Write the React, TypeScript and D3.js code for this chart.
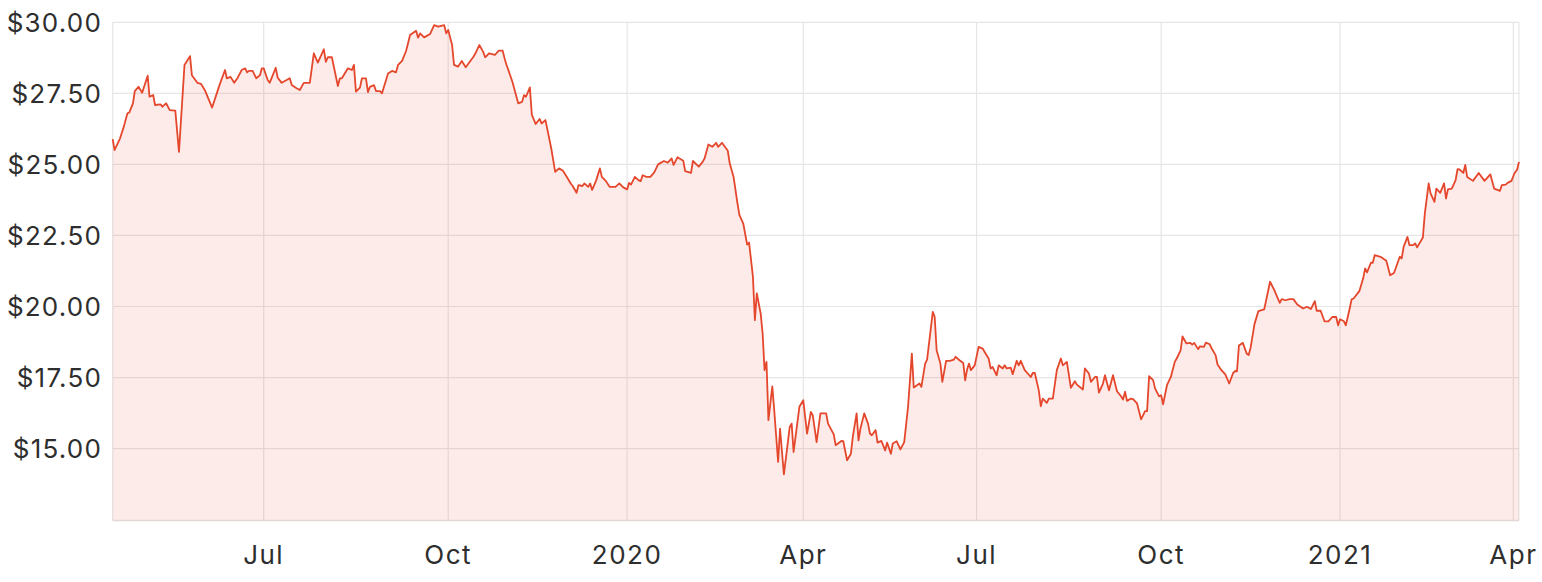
import React from "react";
import * as d3 from "d3";

// Closing prices (date, AUD)
const priceSeries: [string, number][] = [
  ["2019-04-10", 25.89], ["2019-04-11", 25.5], ["2019-04-14", 25.92], ["2019-04-16", 26.32], ["2019-04-18", 26.8],
  ["2019-04-19", 26.82], ["2019-04-21", 27.15], ["2019-04-22", 27.58], ["2019-04-24", 27.73], ["2019-04-26", 27.52],
  ["2019-04-29", 28.12], ["2019-04-30", 27.38], ["2019-05-02", 27.44], ["2019-05-03", 27.09], ["2019-05-06", 27.11],
  ["2019-05-07", 27.03], ["2019-05-09", 27.15], ["2019-05-11", 26.91], ["2019-05-14", 26.89], ["2019-05-16", 25.44],
  ["2019-05-19", 28.5], ["2019-05-22", 28.81], ["2019-05-23", 28.14], ["2019-05-26", 27.87], ["2019-05-28", 27.83],
  ["2019-05-30", 27.62], ["2019-06-03", 27.0], ["2019-06-07", 27.79], ["2019-06-10", 28.32], ["2019-06-11", 28.03],
  ["2019-06-13", 28.08], ["2019-06-15", 27.87], ["2019-06-17", 28.06], ["2019-06-19", 28.32], ["2019-06-21", 28.38],
  ["2019-06-22", 28.24], ["2019-06-23", 28.29], ["2019-06-25", 28.29], ["2019-06-27", 28.03], ["2019-06-29", 28.14],
  ["2019-06-30", 28.38],
  ["2019-07-01", 28.38], ["2019-07-03", 27.97], ["2019-07-04", 27.87], ["2019-07-07", 28.4], ["2019-07-08", 28.05],
  ["2019-07-10", 27.87], ["2019-07-14", 28.03], ["2019-07-15", 27.79], ["2019-07-17", 27.7], ["2019-07-19", 27.62],
  ["2019-07-21", 27.87], ["2019-07-24", 27.87], ["2019-07-26", 28.91], ["2019-07-28", 28.58], ["2019-07-31", 29.05],
  ["2019-08-01", 28.61], ["2019-08-02", 28.77], ["2019-08-04", 28.77], ["2019-08-07", 27.76], ["2019-08-08", 28.03],
  ["2019-08-09", 28.03], ["2019-08-12", 28.38], ["2019-08-14", 28.32], ["2019-08-15", 28.5], ["2019-08-16", 27.56],
  ["2019-08-18", 27.7], ["2019-08-19", 28.03], ["2019-08-21", 28.03], ["2019-08-22", 27.54], ["2019-08-23", 27.73],
  ["2019-08-25", 27.79], ["2019-08-26", 27.58], ["2019-08-28", 27.58], ["2019-08-29", 27.5], ["2019-09-01", 28.2],
  ["2019-09-03", 28.29], ["2019-09-05", 28.24], ["2019-09-06", 28.5], ["2019-09-08", 28.64], ["2019-09-10", 28.99],
  ["2019-09-12", 29.55], ["2019-09-15", 29.7], ["2019-09-16", 29.46], ["2019-09-17", 29.61], ["2019-09-19", 29.47],
  ["2019-09-22", 29.59], ["2019-09-24", 29.9], ["2019-09-26", 29.85], ["2019-09-29", 29.9], ["2019-09-30", 29.61],
  ["2019-10-01", 29.73], ["2019-10-03", 29.2], ["2019-10-04", 28.5], ["2019-10-06", 28.44], ["2019-10-08", 28.64],
  ["2019-10-10", 28.42], ["2019-10-14", 28.79], ["2019-10-15", 28.91], ["2019-10-17", 29.2], ["2019-10-19", 28.96],
  ["2019-10-20", 28.77], ["2019-10-22", 28.91], ["2019-10-25", 28.85], ["2019-10-27", 29.0], ["2019-10-29", 29.0],
  ["2019-10-30", 28.73], ["2019-10-31", 28.5], ["2019-11-03", 27.91], ["2019-11-06", 27.15], ["2019-11-08", 27.2],
  ["2019-11-09", 27.44], ["2019-11-10", 27.38], ["2019-11-12", 27.71], ["2019-11-13", 26.74], ["2019-11-15", 26.42],
  ["2019-11-17", 26.6], ["2019-11-18", 26.44], ["2019-11-20", 26.56], ["2019-11-23", 25.56], ["2019-11-25", 24.74],
  ["2019-11-27", 24.86], ["2019-11-29", 24.78], ["2019-12-01", 24.56], ["2019-12-03", 24.33], ["2019-12-04", 24.24],
  ["2019-12-06", 24.0], ["2019-12-07", 24.27], ["2019-12-09", 24.24], ["2019-12-10", 24.33], ["2019-12-12", 24.21],
  ["2019-12-13", 24.33], ["2019-12-14", 24.1], ["2019-12-16", 24.42], ["2019-12-18", 24.86], ["2019-12-19", 24.56],
  ["2019-12-21", 24.42], ["2019-12-23", 24.21], ["2019-12-26", 24.21], ["2019-12-28", 24.33], ["2019-12-30", 24.19],
  ["2020-01-01", 24.12], ["2020-01-02", 24.35], ["2020-01-03", 24.29], ["2020-01-05", 24.56], ["2020-01-07", 24.44],
  ["2020-01-08", 24.41], ["2020-01-09", 24.62], ["2020-01-11", 24.56], ["2020-01-13", 24.56], ["2020-01-15", 24.72],
  ["2020-01-17", 25.0], ["2020-01-20", 25.12], ["2020-01-22", 25.06], ["2020-01-24", 25.21], ["2020-01-25", 24.98],
  ["2020-01-27", 25.25], ["2020-01-30", 25.13], ["2020-01-31", 24.76], ["2020-02-03", 24.7], ["2020-02-04", 25.12],
  ["2020-02-07", 24.92], ["2020-02-09", 25.09], ["2020-02-10", 25.21], ["2020-02-12", 25.7], ["2020-02-14", 25.62],
  ["2020-02-16", 25.76], ["2020-02-17", 25.62], ["2020-02-19", 25.76], ["2020-02-22", 25.48], ["2020-02-23", 25.04],
  ["2020-02-25", 24.56], ["2020-02-27", 23.63], ["2020-02-28", 23.22], ["2020-03-01", 22.92], ["2020-03-03", 22.18],
  ["2020-03-04", 22.25], ["2020-03-06", 21.04], ["2020-03-07", 19.52], ["2020-03-08", 20.46], ["2020-03-10", 19.75],
  ["2020-03-11", 19.05], ["2020-03-12", 17.76], ["2020-03-13", 18.05], ["2020-03-14", 16.0], ["2020-03-16", 17.19],
  ["2020-03-17", 16.35], ["2020-03-19", 14.53], ["2020-03-20", 15.7], ["2020-03-22", 14.09], ["2020-03-25", 15.76],
  ["2020-03-26", 15.88], ["2020-03-27", 14.88], ["2020-03-30", 16.47],
  ["2020-04-01", 16.7], ["2020-04-03", 15.53], ["2020-04-05", 16.29], ["2020-04-06", 16.17], ["2020-04-08", 15.23],
  ["2020-04-10", 16.24], ["2020-04-13", 16.24], ["2020-04-14", 15.88], ["2020-04-17", 15.5], ["2020-04-18", 15.12],
  ["2020-04-21", 15.27], ["2020-04-22", 15.26], ["2020-04-24", 14.59], ["2020-04-26", 14.82], ["2020-04-27", 15.41],
  ["2020-04-29", 16.24], ["2020-04-30", 15.29], ["2020-05-01", 15.7], ["2020-05-03", 16.24], ["2020-05-05", 15.88],
  ["2020-05-06", 15.53], ["2020-05-07", 15.47], ["2020-05-09", 15.65], ["2020-05-10", 15.21], ["2020-05-12", 15.27],
  ["2020-05-14", 14.94], ["2020-05-15", 15.21], ["2020-05-17", 14.82], ["2020-05-18", 15.18], ["2020-05-20", 15.26],
  ["2020-05-22", 14.97], ["2020-05-24", 15.23], ["2020-05-26", 16.47], ["2020-05-27", 17.4], ["2020-05-28", 18.34],
  ["2020-05-29", 17.15], ["2020-06-01", 17.29], ["2020-06-02", 17.17], ["2020-06-04", 17.99], ["2020-06-05", 18.13],
  ["2020-06-08", 19.81], ["2020-06-09", 19.63], ["2020-06-10", 18.46], ["2020-06-12", 17.99], ["2020-06-13", 17.35],
  ["2020-06-15", 18.09], ["2020-06-17", 18.09], ["2020-06-19", 18.13], ["2020-06-20", 18.23], ["2020-06-22", 18.11],
  ["2020-06-24", 18.01], ["2020-06-25", 17.4], ["2020-06-26", 17.78], ["2020-06-27", 17.99], ["2020-06-28", 17.76],
  ["2020-06-30", 17.93],
  ["2020-07-02", 18.58], ["2020-07-04", 18.52], ["2020-07-05", 18.4], ["2020-07-07", 18.17], ["2020-07-08", 17.82],
  ["2020-07-09", 17.87], ["2020-07-11", 17.58], ["2020-07-12", 17.93], ["2020-07-14", 17.82], ["2020-07-15", 17.93],
  ["2020-07-16", 17.82], ["2020-07-18", 17.85], ["2020-07-19", 17.62], ["2020-07-21", 18.09], ["2020-07-22", 17.93],
  ["2020-07-23", 18.09], ["2020-07-25", 17.76], ["2020-07-28", 17.52], ["2020-07-29", 17.66], ["2020-07-30", 17.66],
  ["2020-08-01", 17.05], ["2020-08-02", 16.49], ["2020-08-03", 16.76], ["2020-08-05", 16.61], ["2020-08-06", 16.76],
  ["2020-08-08", 16.76], ["2020-08-10", 17.76], ["2020-08-12", 18.17], ["2020-08-13", 17.93], ["2020-08-15", 18.05],
  ["2020-08-17", 17.14], ["2020-08-19", 17.37], ["2020-08-20", 17.25], ["2020-08-23", 17.08], ["2020-08-24", 17.82],
  ["2020-08-26", 17.64], ["2020-08-27", 17.35], ["2020-08-29", 17.52], ["2020-08-30", 17.52], ["2020-08-31", 16.97],
  ["2020-09-02", 17.29], ["2020-09-03", 17.58], ["2020-09-05", 17.05], ["2020-09-07", 17.58], ["2020-09-09", 17.02],
  ["2020-09-11", 16.84], ["2020-09-12", 16.73], ["2020-09-13", 17.0], ["2020-09-14", 16.68], ["2020-09-16", 16.76],
  ["2020-09-17", 16.74], ["2020-09-19", 16.59], ["2020-09-21", 16.03], ["2020-09-23", 16.32], ["2020-09-24", 16.32],
  ["2020-09-25", 17.55], ["2020-09-27", 17.41], ["2020-09-28", 17.11], ["2020-09-30", 16.84],
  ["2020-10-01", 16.88], ["2020-10-02", 16.56], ["2020-10-04", 17.23], ["2020-10-06", 17.52], ["2020-10-08", 18.05],
  ["2020-10-09", 18.17], ["2020-10-11", 18.46], ["2020-10-12", 18.95], ["2020-10-14", 18.7], ["2020-10-16", 18.72],
  ["2020-10-17", 18.66], ["2020-10-18", 18.72], ["2020-10-20", 18.5], ["2020-10-21", 18.6], ["2020-10-23", 18.58],
  ["2020-10-24", 18.73], ["2020-10-26", 18.67], ["2020-10-27", 18.52], ["2020-10-29", 18.29], ["2020-10-30", 17.96],
  ["2020-11-01", 17.76], ["2020-11-03", 17.61], ["2020-11-05", 17.29], ["2020-11-07", 17.66], ["2020-11-08", 17.73],
  ["2020-11-09", 17.72], ["2020-11-10", 18.63], ["2020-11-12", 18.72], ["2020-11-14", 18.34], ["2020-11-15", 18.29],
  ["2020-11-16", 18.55], ["2020-11-18", 19.38], ["2020-11-20", 19.84], ["2020-11-23", 19.9], ["2020-11-26", 20.87],
  ["2020-11-28", 20.6], ["2020-12-01", 20.13], ["2020-12-02", 20.26], ["2020-12-04", 20.22], ["2020-12-06", 20.26],
  ["2020-12-08", 20.26], ["2020-12-10", 20.07], ["2020-12-13", 19.93], ["2020-12-15", 19.99], ["2020-12-17", 19.91],
  ["2020-12-19", 20.19], ["2020-12-20", 19.85], ["2020-12-22", 19.85], ["2020-12-24", 19.48], ["2020-12-26", 19.48],
  ["2020-12-28", 19.63], ["2020-12-30", 19.63], ["2020-12-31", 19.34],
  ["2021-01-01", 19.55], ["2021-01-03", 19.48], ["2021-01-04", 19.34], ["2021-01-06", 19.93], ["2021-01-07", 20.25],
  ["2021-01-08", 20.28], ["2021-01-11", 20.54], ["2021-01-13", 20.99], ["2021-01-14", 21.34], ["2021-01-15", 21.2],
  ["2021-01-17", 21.54], ["2021-01-18", 21.54], ["2021-01-19", 21.81], ["2021-01-22", 21.75], ["2021-01-25", 21.61],
  ["2021-01-27", 21.1], ["2021-01-29", 21.18], ["2021-02-01", 21.75], ["2021-02-02", 21.69], ["2021-02-03", 22.1],
  ["2021-02-05", 22.45], ["2021-02-06", 22.16], ["2021-02-08", 22.16], ["2021-02-09", 22.22], ["2021-02-10", 22.08],
  ["2021-02-13", 22.43], ["2021-02-14", 23.27], ["2021-02-16", 24.33], ["2021-02-17", 23.98], ["2021-02-19", 23.68],
  ["2021-02-20", 24.15], ["2021-02-22", 24.0], ["2021-02-24", 24.33], ["2021-02-25", 23.8], ["2021-02-26", 24.12],
  ["2021-02-28", 24.15], ["2021-03-02", 24.45], ["2021-03-03", 24.83], ["2021-03-04", 24.82], ["2021-03-06", 24.7],
  ["2021-03-07", 24.98], ["2021-03-08", 24.56], ["2021-03-11", 24.42], ["2021-03-14", 24.7], ["2021-03-17", 24.42],
  ["2021-03-20", 24.65], ["2021-03-22", 24.15], ["2021-03-25", 24.07], ["2021-03-26", 24.27], ["2021-03-28", 24.29],
  ["2021-03-29", 24.35], ["2021-03-31", 24.42], ["2021-04-02", 24.68], ["2021-04-05", 24.82], ["2021-04-07", 25.09],
];

const yTickValues = [15, 17.5, 20, 22.5, 25, 27.5, 30];
const yDomain = [12.47, 30];

const xTickDates = ["2019-07-01", "2019-10-01", "2020-01-01", "2020-04-01", "2020-07-01", "2020-10-01", "2021-01-01", "2021-04-01"];
const xTickLabels = ["Jul", "Oct", "2020", "Apr", "Jul", "Oct", "2021", "Apr"];

// Exchange (ASX) holidays falling on weekdays in the period: axis is spaced by trading days
const marketHolidays = [
  "2019-04-19", "2019-04-22", "2019-04-25", "2019-06-10", "2019-12-25", "2019-12-26",
  "2020-01-01", "2020-01-27", "2020-04-10", "2020-04-13", "2020-06-08", "2020-12-25", "2020-12-28",
  "2021-01-01", "2021-01-26", "2021-04-02", "2021-04-05",
];

const W = 1542;
const H = 582;
const M = { left: 112.7, right: 1519, top: 22.3, bottom: 520.5 };
const FONT = "Inter, 'Open Sans', 'DejaVu Sans', sans-serif";

export default function App() {
  const parse = d3.utcParse("%Y-%m-%d");
  const fmt = d3.utcFormat("%Y-%m-%d");
  const data = priceSeries.map(([d, v]) => ({ date: parse(d) as Date, value: v }));
  const start = data[0].date;
  const end = data[data.length - 1].date;

  const holidaySet = new Set(marketHolidays);
  const tradingDays = d3
    .utcDays(start, d3.utcDay.offset(end, 1))
    .filter((d) => d.getUTCDay() !== 0 && d.getUTCDay() !== 6 && !holidaySet.has(fmt(d)));
  const idxScale = d3.scaleLinear().domain([0, tradingDays.length - 1]).range([M.left, M.right]);
  const tradingIndex = (d: Date) => d3.bisectLeft(tradingDays.map((t) => +t), +d);

  const tickDates = xTickDates.map((s) => parse(s) as Date);
  const anchors = [start, ...tickDates, end];
  const x = d3
    .scaleUtc()
    .domain(anchors)
    .range(anchors.map((a) => idxScale(tradingIndex(a))));

  const y = d3.scaleLinear().domain(yDomain).range([M.bottom, M.top]);

  const line = d3
    .line<{ date: Date; value: number }>()
    .x((d) => x(d.date))
    .y((d) => y(d.value));
  const area = d3
    .area<{ date: Date; value: number }>()
    .x((d) => x(d.date))
    .y0(M.bottom)
    .y1((d) => y(d.value));

  const yFmt = d3.format("$.2f");
  const gridColor = "#e6e6e6";

  return (
    <svg
      width={W}
      height={H}
      style={{ position: "absolute", left: 0, top: 0, background: "#fff" }}
      fontFamily={FONT}
    >
      {/* horizontal grid */}
      {yTickValues.map((v) => (
        <line key={"h" + v} x1={M.left} x2={M.right} y1={y(v)} y2={y(v)} stroke={gridColor} strokeWidth={1.2} />
      ))}
      {/* vertical grid */}
      {tickDates.map((d, i) => (
        <line key={"v" + i} x1={x(d)} x2={x(d)} y1={M.top} y2={M.bottom} stroke={gridColor} strokeWidth={1.2} />
      ))}
      <line x1={M.left} x2={M.left} y1={M.top} y2={M.bottom} stroke={gridColor} strokeWidth={1.2} />
      <line x1={M.right} x2={M.right} y1={M.top} y2={M.bottom} stroke={gridColor} strokeWidth={1.2} />

      {/* area + line */}
      <path d={area(data) || ""} fill="#e0452c" fillOpacity={0.11} />
      <path d={line(data) || ""} fill="none" stroke="#e5472d" strokeWidth={1.8} strokeLinejoin="round" />

      {/* x baseline */}
      <line x1={M.left} x2={M.right} y1={M.bottom} y2={M.bottom} stroke="#e3d6d5" strokeWidth={1.5} />

      {/* y labels */}
      {yTickValues.map((v) => (
        <text key={"yl" + v} x={102} y={y(v)} dy="0.36em" textAnchor="end" fontSize={26} letterSpacing={1.2} fill="#2e2e2e">
          {yFmt(v)}
        </text>
      ))}
      {/* x labels */}
      {tickDates.map((d, i) => (
        <text key={"xl" + i} x={x(d)} y={564} textAnchor="middle" fontSize={26} letterSpacing={1.5} fill="#2e2e2e">
          {xTickLabels[i]}
        </text>
      ))}
    </svg>
  );
}
